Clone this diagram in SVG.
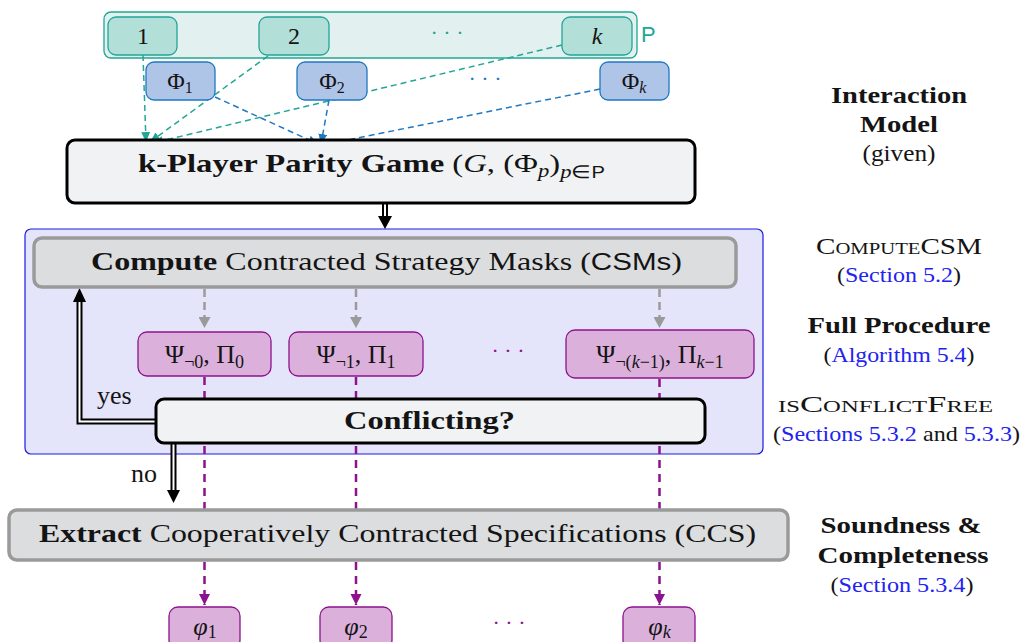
<svg xmlns="http://www.w3.org/2000/svg" width="1025" height="642" viewBox="0 0 1025 642">
<style>
text{font-family:"Liberation Serif","Times New Roman",serif;fill:#141414}
.b{font-weight:bold}
.i{font-style:italic}
.sc{font-variant:small-caps}
.ss{font-family:"Liberation Sans",Arial,sans-serif}
.lnk{fill:#2323f0}
.mid{text-anchor:middle}
.pn{fill:#b3dfd9;stroke:#22a697;stroke-width:1.3}
.fn{fill:#afc5e7;stroke:#1e78c2;stroke-width:1.3}
.sn{fill:#dbb1dc;stroke:#8d128d;stroke-width:1.3}
.big{fill:#f1f2f4;stroke:#000;stroke-width:3}
.gray{fill:#dcdddf;stroke:#9a9a9a;stroke-width:3.5}
.dt{stroke:#22a697;stroke-width:1.5;stroke-dasharray:6 4;fill:none}
.db{stroke:#1e78c2;stroke-width:1.5;stroke-dasharray:6 4;fill:none}
.dg{stroke:#9a9a9a;stroke-width:2.5;stroke-dasharray:8 5;fill:none}
.dp{stroke:#8d128d;stroke-width:2.5;stroke-dasharray:8 6;fill:none}
.dbl1{stroke:#000;stroke-width:6;fill:none}
.dbl2{stroke:#fff;stroke-width:2;fill:none}
.t22{font-size:22px}
.t24{font-size:24px}
.t26{font-size:26px}
</style>
<defs>
<marker id="mt" markerUnits="userSpaceOnUse" markerWidth="11" markerHeight="9" refX="10" refY="4.5" orient="auto"><path d="M0,0 L10,4.5 L0,9 z" fill="#22a697"/></marker>
<marker id="mb" markerUnits="userSpaceOnUse" markerWidth="11" markerHeight="9" refX="10" refY="4.5" orient="auto"><path d="M0,0 L10,4.5 L0,9 z" fill="#1e78c2"/></marker>
<marker id="mg" markerUnits="userSpaceOnUse" markerWidth="12" markerHeight="12" refX="11" refY="6" orient="auto"><path d="M0,0 L11,6 L0,12 z" fill="#9a9a9a"/></marker>
<marker id="mp" markerUnits="userSpaceOnUse" markerWidth="12" markerHeight="12" refX="11" refY="5.5" orient="auto"><path d="M0,0 L11,5.5 L0,11 z" fill="#8d128d"/></marker>
</defs>

<g id="players-container">
<rect x="104" y="12" width="533" height="46" rx="7" fill="#e2f1ef" stroke="#22a697" stroke-width="1.3"/>
<text x="641" y="42" class="ss" font-size="22" style="fill:#22a697">P</text>
</g>
<g id="procedure-region">
<rect x="25" y="229" width="738" height="225" rx="6" fill="#e4e4fb" stroke="#1a1ae6" stroke-width="1.2"/>
</g>

<g id="connectors">
<path class="dt" d="M143,55 L146,142" marker-end="url(#mt)"/>
<path class="dt" d="M268,56 L150,142" marker-end="url(#mt)"/>
<path class="dt" d="M562,45 L153,143" marker-end="url(#mt)"/>
<path class="db" d="M215,97 L318,144" marker-end="url(#mb)"/>
<path class="db" d="M329,100 L321,144" marker-end="url(#mb)"/>
<path class="db" d="M600,89 L323,145" marker-end="url(#mb)"/>
<path class="dg" d="M204.5,289 V328" marker-end="url(#mg)"/>
<path class="dg" d="M356,289 V328" marker-end="url(#mg)"/>
<path class="dg" d="M659.5,289 V328" marker-end="url(#mg)"/>
<path class="dp" d="M204.5,377 V398 M204.5,446 V509"/>
<path class="dp" d="M356,377 V398 M356,446 V509"/>
<path class="dp" d="M659.5,379 V398 M659.5,446 V509"/>
<path class="dp" d="M204.5,562 V605" marker-end="url(#mp)"/>
<path class="dp" d="M356,562 V605" marker-end="url(#mp)"/>
<path class="dp" d="M659.5,562 V605" marker-end="url(#mp)"/>
<path class="dbl1" d="M385,203 V218"/><path class="dbl2" d="M385,203 V218"/>
<polygon points="378,216 392,216 385,229" fill="#000"/>
<path class="dbl1" d="M157,421.5 H79.5 V301"/><path class="dbl2" d="M157,421.5 H79.5 V301"/>
<polygon points="73,302 86,302 79.5,288" fill="#000"/>
<path class="dbl1" d="M173.5,444 V491"/><path class="dbl2" d="M173.5,444 V491"/>
<polygon points="167,490 180,490 173.5,503" fill="#000"/>
<text x="97" y="404" class="t26">yes</text>
<text x="131" y="482" class="t26">no</text>
</g>

<g id="player-1"><rect class="pn" x="108" y="17" width="69" height="38" rx="8"/><text x="143" y="44" class="t24 mid">1</text></g>
<g id="player-2"><rect class="pn" x="259" y="17" width="70" height="38" rx="8"/><text x="294" y="44" class="t24 mid">2</text></g>
<text x="447" y="40" class="t22 mid" style="fill:#22a697">· · ·</text>
<g id="player-k"><rect class="pn" x="562" y="17" width="70" height="38" rx="8"/><text x="597" y="44" class="t24 mid i">k</text></g>

<g id="phi-1"><rect class="fn" x="146" y="62" width="69" height="38" rx="8"/><text x="180" y="89" class="t24 mid">Φ<tspan font-size="16" dy="4">1</tspan></text></g>
<g id="phi-2"><rect class="fn" x="297" y="62" width="70" height="38" rx="8"/><text x="332" y="89" class="t24 mid">Φ<tspan font-size="16" dy="4">2</tspan></text></g>
<text x="485" y="86" class="t22 mid" style="fill:#1e78c2">· · ·</text>
<g id="phi-k"><rect class="fn" x="600" y="62" width="69" height="38" rx="8"/><text x="634" y="89" class="t24 mid">Φ<tspan font-size="16" dy="4" class="i">k</tspan></text></g>

<g id="game"><rect class="big" x="67" y="140" width="628" height="63" rx="8"/>
<text x="138" y="172" class="t26" textLength="467" lengthAdjust="spacingAndGlyphs"><tspan class="b">k-Player Parity Game</tspan> (<tspan class="i">G</tspan>, (Φ<tspan class="i" font-size="18" dy="5">p</tspan><tspan dy="-5">)</tspan><tspan class="i" font-size="18" dy="6">p</tspan><tspan font-size="18">∈</tspan><tspan class="ss" font-size="16">P</tspan></text></g>

<g id="compute"><rect class="gray" x="34" y="238" width="702" height="49" rx="8"/>
<text x="91" y="270" class="t26" textLength="591" lengthAdjust="spacingAndGlyphs"><tspan class="b">Compute</tspan> Contracted Strategy Masks (<tspan class="ss" font-size="24">CSMs</tspan>)</text></g>

<g id="psi-0"><rect class="sn" x="138" y="332" width="133" height="44" rx="9"/><text x="204.5" y="363" class="t26 mid">Ψ<tspan font-size="18" dy="5">¬0</tspan><tspan dy="-5">, Π</tspan><tspan font-size="18" dy="5">0</tspan></text></g>
<g id="psi-1"><rect class="sn" x="289" y="332" width="134" height="44" rx="9"/><text x="356" y="363" class="t26 mid">Ψ<tspan font-size="18" dy="5">¬1</tspan><tspan dy="-5">, Π</tspan><tspan font-size="18" dy="5">1</tspan></text></g>
<text x="508" y="358" class="t22 mid" style="fill:#8d128d">· · ·</text>
<g id="psi-k"><rect class="sn" x="566" y="330" width="188" height="48" rx="9"/><text x="660" y="363" class="t26 mid">Ψ<tspan font-size="18" dy="5">¬(<tspan class="i">k</tspan>−1)</tspan><tspan dy="-5">, Π</tspan><tspan font-size="18" dy="5"><tspan class="i">k</tspan>−1</tspan></text></g>

<g id="conflicting"><rect class="big" x="156" y="399" width="549" height="44" rx="8"/>
<text x="344" y="429" class="t26 b" textLength="171" lengthAdjust="spacingAndGlyphs">Conflicting?</text></g>

<g id="extract"><rect class="gray" x="9" y="510" width="779" height="50" rx="8"/>
<text x="39" y="542" class="t26" textLength="717" lengthAdjust="spacingAndGlyphs"><tspan class="b">Extract</tspan> Cooperatively Contracted Specifications (CCS)</text></g>

<g id="spec-1"><rect class="sn" x="169" y="607" width="71" height="42" rx="9"/><text x="205" y="635" class="t26 mid"><tspan class="i">φ</tspan><tspan font-size="18" dy="3">1</tspan></text></g>
<g id="spec-2"><rect class="sn" x="320" y="607" width="72" height="42" rx="9"/><text x="356" y="635" class="t26 mid"><tspan class="i">φ</tspan><tspan font-size="18" dy="3">2</tspan></text></g>
<text x="509" y="630" class="t22 mid" style="fill:#8d128d">· · ·</text>
<g id="spec-k"><rect class="sn" x="623" y="607" width="72" height="42" rx="9"/><text x="659.5" y="635" class="t26 mid"><tspan class="i">φ</tspan><tspan font-size="18" dy="3" class="i">k</tspan></text></g>

<g id="side-labels">
<text x="899" y="103" class="t24 b mid" textLength="136" lengthAdjust="spacingAndGlyphs">Interaction</text>
<text x="899" y="132" class="t24 b mid" textLength="78" lengthAdjust="spacingAndGlyphs">Model</text>
<text x="899" y="161" class="t24 mid" textLength="73" lengthAdjust="spacingAndGlyphs">(given)</text>
<text x="899" y="254" class="t24 sc mid" textLength="166" lengthAdjust="spacingAndGlyphs">ComputeCSM</text>
<text x="899" y="282" class="t22 mid" textLength="124" lengthAdjust="spacingAndGlyphs">(<tspan class="lnk">Section 5.2</tspan>)</text>
<text x="899" y="333" class="t24 b mid" textLength="183" lengthAdjust="spacingAndGlyphs">Full Procedure</text>
<text x="899" y="362" class="t22 mid" textLength="151" lengthAdjust="spacingAndGlyphs">(<tspan class="lnk">Algorithm 5.4</tspan>)</text>
<text x="885.5" y="412" class="t24 sc mid" textLength="215" lengthAdjust="spacingAndGlyphs">isConflictFree</text>
<text x="896.5" y="441" class="t22 mid" textLength="247" lengthAdjust="spacingAndGlyphs">(<tspan class="lnk">Sections 5.3.2</tspan> and <tspan class="lnk">5.3.3</tspan>)</text>
<text x="901" y="533" class="t24 b mid" textLength="161" lengthAdjust="spacingAndGlyphs">Soundness &amp;</text>
<text x="903" y="563" class="t24 b mid" textLength="171" lengthAdjust="spacingAndGlyphs">Completeness</text>
<text x="902" y="592" class="t22 mid" textLength="143" lengthAdjust="spacingAndGlyphs">(<tspan class="lnk">Section 5.3.4</tspan>)</text>
</g>
</svg>
